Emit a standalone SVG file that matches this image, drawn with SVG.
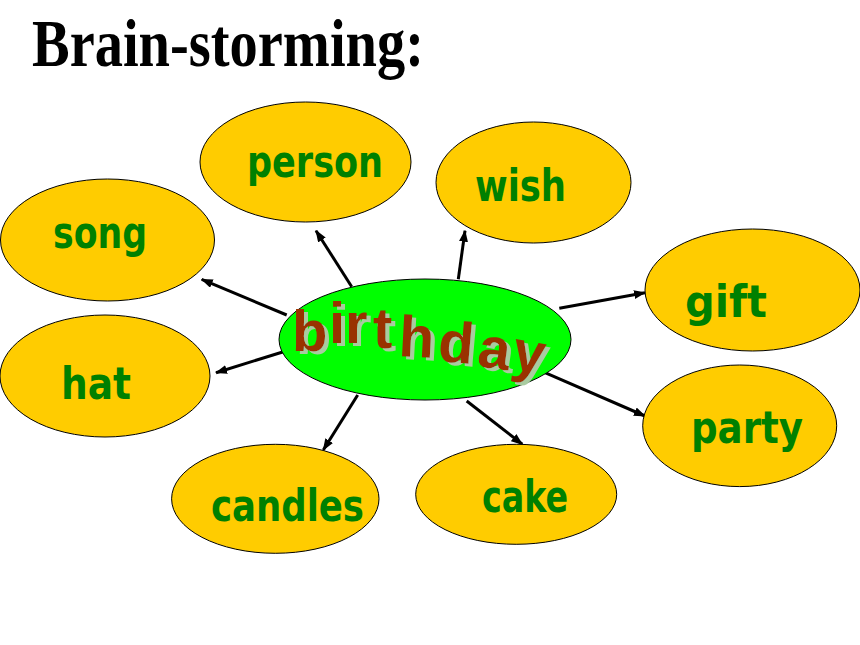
<svg xmlns="http://www.w3.org/2000/svg" width="860" height="645" viewBox="0 0 860 645">
<defs>
<style>
.node{fill:#FFCC00;stroke:#000;stroke-width:1}
.center{fill:#00FF00;stroke:#000;stroke-width:1}
.lbl{font-family:"DejaVu Sans","Liberation Sans",sans-serif;font-weight:bold;font-size:44px;fill:#008000}
.big{font-family:"Liberation Sans","DejaVu Sans",sans-serif;font-weight:bold;font-size:58px;fill:#993300}
.conn{stroke:#000;stroke-width:3;fill:none;marker-end:url(#arr)}
.title{font-family:"Liberation Serif","Times New Roman",serif;font-weight:bold;font-size:68px;fill:#000}
</style>
<marker id="arr" markerUnits="userSpaceOnUse" markerWidth="12" markerHeight="10" refX="11" refY="4.5" orient="auto">
<path d="M0,0 L12,4.5 L0,9 Z" fill="#000"/>
</marker>
<filter id="sh" x="-10%" y="-20%" width="130%" height="150%">
<feOffset in="SourceAlpha" dx="4" dy="3" result="o"/>
<feFlood flood-color="#A9CBA0"/>
<feComposite in2="o" operator="in" result="s"/>
<feMerge><feMergeNode in="s"/><feMergeNode in="SourceGraphic"/></feMerge>
</filter>
</defs>
<rect width="860" height="645" fill="#fff"/>
<text class="title" x="32" y="66" textLength="392" lengthAdjust="spacingAndGlyphs">Brain-storming:</text>
<g id="connectors">
<line class="conn" x1="351.7" y1="286.7" x2="316" y2="230.7"/>
<line class="conn" x1="286.7" y1="315" x2="201.7" y2="279.3"/>
<line class="conn" x1="458.3" y1="279.3" x2="465" y2="230.7"/>
<line class="conn" x1="559.3" y1="308.3" x2="645" y2="292.7"/>
<line class="conn" x1="286.7" y1="350.7" x2="216" y2="372.7"/>
<line class="conn" x1="357.7" y1="395" x2="323.3" y2="450"/>
<line class="conn" x1="466.7" y1="401" x2="522.3" y2="444.3"/>
<line class="conn" x1="545" y1="372.7" x2="645" y2="416"/>
</g>
<g id="person"><ellipse class="node" cx="305.5" cy="162" rx="105.5" ry="60"/><text class="lbl" x="247" y="177" textLength="136" lengthAdjust="spacingAndGlyphs">person</text></g>
<g id="song"><ellipse class="node" cx="107.5" cy="240" rx="107" ry="61"/><text class="lbl" x="53" y="248" textLength="94" lengthAdjust="spacingAndGlyphs">song</text></g>
<g id="wish"><ellipse class="node" cx="533.5" cy="182.5" rx="97.5" ry="60.5"/><text class="lbl" x="475" y="200.5" textLength="91" lengthAdjust="spacingAndGlyphs">wish</text></g>
<g id="gift"><ellipse class="node" cx="752.5" cy="290" rx="107.5" ry="61"/><text class="lbl" x="685" y="317" textLength="82" lengthAdjust="spacingAndGlyphs">gift</text></g>
<g id="hat"><ellipse class="node" cx="105" cy="376" rx="105" ry="61"/><text class="lbl" x="61" y="399" textLength="70" lengthAdjust="spacingAndGlyphs">hat</text></g>
<g id="candles"><ellipse class="node" cx="275.3" cy="498.8" rx="103.7" ry="54.5"/><text class="lbl" x="211" y="521" textLength="153" lengthAdjust="spacingAndGlyphs">candles</text></g>
<g id="cake"><ellipse class="node" cx="516.2" cy="494.3" rx="100.5" ry="50"/><text class="lbl" x="482" y="511.5" textLength="86" lengthAdjust="spacingAndGlyphs">cake</text></g>
<g id="party"><ellipse class="node" cx="739.7" cy="425.8" rx="97" ry="60.8"/><text class="lbl" x="691" y="443" textLength="112" lengthAdjust="spacingAndGlyphs">party</text></g>
<g id="birthday">
<ellipse class="center" cx="425" cy="339.5" rx="146" ry="60.5"/>
<text class="big" filter="url(#sh)" x="292 329 345 373 398 437 476 510" y="351 343 343 348 356 361 366 369" rotate="0 0 0 0 3 5 8 10">birthday</text>
</g>
</svg>
